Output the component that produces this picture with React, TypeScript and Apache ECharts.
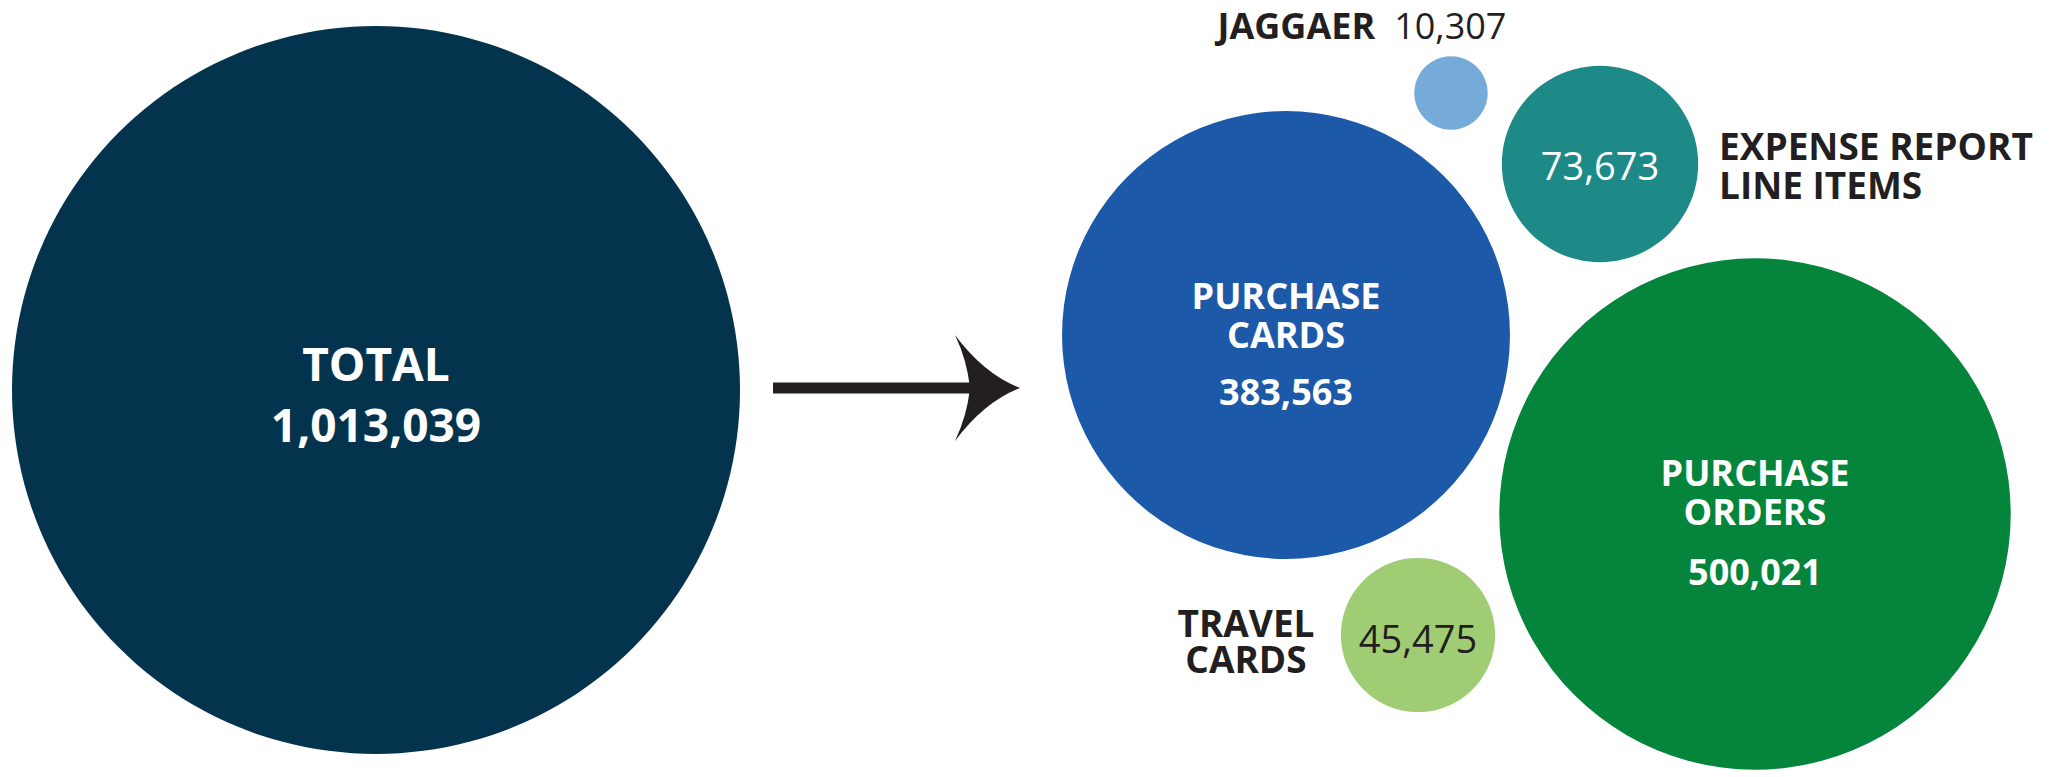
import React, { useEffect, useRef } from "react";
import * as echarts from "echarts";

// ---- data ----
const categories = ["Total", "Purchase Cards", "Purchase Orders", "Jaggaer", "Expense Report Line Items", "Travel Cards"];
const nameLines = [["TOTAL"], ["PURCHASE", "CARDS"], ["PURCHASE", "ORDERS"], ["JAGGAER"], ["EXPENSE REPORT", "LINE ITEMS"], ["TRAVEL", "CARDS"]];
const values = [1013039, 383563, 500021, 10307, 73673, 45475];
// packed-bubble layout positions (chart coordinate space)
const layoutX = [376, 1286, 1755, 1451, 1600, 1418];
const layoutY = [390, 335, 514, 93, 164, 635];

const W = 2054;
const H = 777;
const FONT = "'Open Sans', 'Noto Sans', sans-serif";
const DARK = "#231f20";
const colors = ["#04344d", "#1c5aa9", "#05853c", "#76aad9", "#1e8a87", "#a0cd73"];
const MAX_DIAMETER = 728;

const fmt = (v: number) => v.toLocaleString("en-US");

echarts.graphic.registerShape(
  "arrowhead",
  echarts.graphic.extendPath(
    "M0,0 Q-36,-14 -65,-53 Q-53,-28 -50,0 Q-53,28 -65,53 Q-36,14 0,0 Z",
    {}
  )
);

function insideLabel(i: number): any {
  const white = { color: "#ffffff", fontFamily: FONT };
  if (i === 0) {
    return {
      show: true,
      position: "inside",
      offset: [0, 3],
      formatter: `{b|${nameLines[0][0]}}\n{b|${fmt(values[0])}}`,
      rich: { b: { ...white, fontSize: 46, fontWeight: "bold", lineHeight: 61 } },
    };
  }
  if (i === 1 || i === 2) {
    return {
      show: true,
      position: "inside",
      offset: i === 1 ? [0, 17] : [0, 18],
      formatter: nameLines[i].map((s) => `{b|${s}}`).join("\n") + `\n{n|${fmt(values[i])}}`,
      rich: {
        b: { ...white, fontSize: 36, fontWeight: "bold", lineHeight: 39 },
        n: { ...white, fontSize: 36, fontWeight: "bold", lineHeight: i === 1 ? 74 : 81 },
      },
    };
  }
  if (i === 4) {
    return {
      show: true,
      position: "inside",
      offset: [0, 1],
      formatter: fmt(values[i]),
      color: "#ffffff",
      fontFamily: FONT,
      fontSize: 38,
    };
  }
  if (i === 5) {
    return {
      show: true,
      position: "inside",
      offset: [0, 3],
      formatter: fmt(values[i]),
      color: DARK,
      fontFamily: FONT,
      fontSize: 38,
    };
  }
  return { show: false };
}

function outsideLabel(i: number): any {
  const dark = { color: DARK, fontFamily: FONT };
  if (i === 3) {
    return {
      show: true,
      position: "inside",
      offset: [-89, -68],
      formatter: `{b|${nameLines[3][0]}}{r|${fmt(values[3])}}`,
      rich: {
        b: { ...dark, fontSize: 36, fontWeight: "bold", lineHeight: 36 },
        r: { ...dark, fontSize: 36, lineHeight: 36, padding: [0, 0, 0, 19] },
      },
    };
  }
  if (i === 4) {
    return {
      show: true,
      position: "inside",
      align: "left",
      offset: [119, 1],
      formatter: nameLines[4].map((s) => `{b|${s}}`).join("\n"),
      rich: { b: { ...dark, fontSize: 37, fontWeight: "bold", lineHeight: 39, align: "left" } },
    };
  }
  if (i === 5) {
    return {
      show: true,
      position: "inside",
      offset: [-172, 5],
      formatter: nameLines[5].map((s) => `{b|${s}}`).join("\n"),
      rich: { b: { ...dark, fontSize: 37, fontWeight: "bold", lineHeight: 36 } },
    };
  }
  return { show: false };
}

export default function App() {
  const ref = useRef<HTMLDivElement>(null);

  useEffect(() => {
    document.body.style.margin = "0";
    if (!ref.current) return;
    const chart = echarts.init(ref.current, null, { renderer: "svg" });
    const maxV = Math.max(...values);

    const bubbles = categories.map((name, i) => ({
      name,
      value: [layoutX[i], layoutY[i], values[i]],
      itemStyle: { color: colors[i], opacity: 1 },
      label: insideLabel(i),
    }));
    const callouts = categories.map((name, i) => ({
      name,
      value: [layoutX[i], layoutY[i], values[i]],
      label: outsideLabel(i),
    }));

    chart.setOption({
      animation: false,
      backgroundColor: "#ffffff",
      grid: { left: 0, right: 0, top: 0, bottom: 0 },
      xAxis: { type: "value", min: 0, max: W, show: false },
      yAxis: { type: "value", min: 0, max: H, inverse: true, show: false },
      tooltip: { show: false },
      series: [
        {
          type: "scatter",
          name: "bubbles",
          symbol: "circle",
          symbolSize: (val: number[]) => MAX_DIAMETER * Math.sqrt(val[2] / maxV),
          itemStyle: { opacity: 1 },
          data: bubbles,
          emphasis: { disabled: true },
          silent: true,
        },
        {
          type: "scatter",
          name: "callouts",
          symbolSize: 1,
          itemStyle: { color: "rgba(0,0,0,0)", opacity: 1 },
          data: callouts,
          emphasis: { disabled: true },
          silent: true,
        },
      ],
      graphic: [
        {
          type: "line",
          shape: { x1: 773, y1: 388, x2: 985, y2: 388 },
          style: { stroke: DARK, lineWidth: 11 },
          silent: true,
        },
        {
          type: "arrowhead",
          x: 1020,
          y: 388,
          style: { fill: DARK },
          silent: true,
        },
      ],
    });

    return () => chart.dispose();
  }, []);

  return <div ref={ref} style={{ width: W, height: H }} />;
}
